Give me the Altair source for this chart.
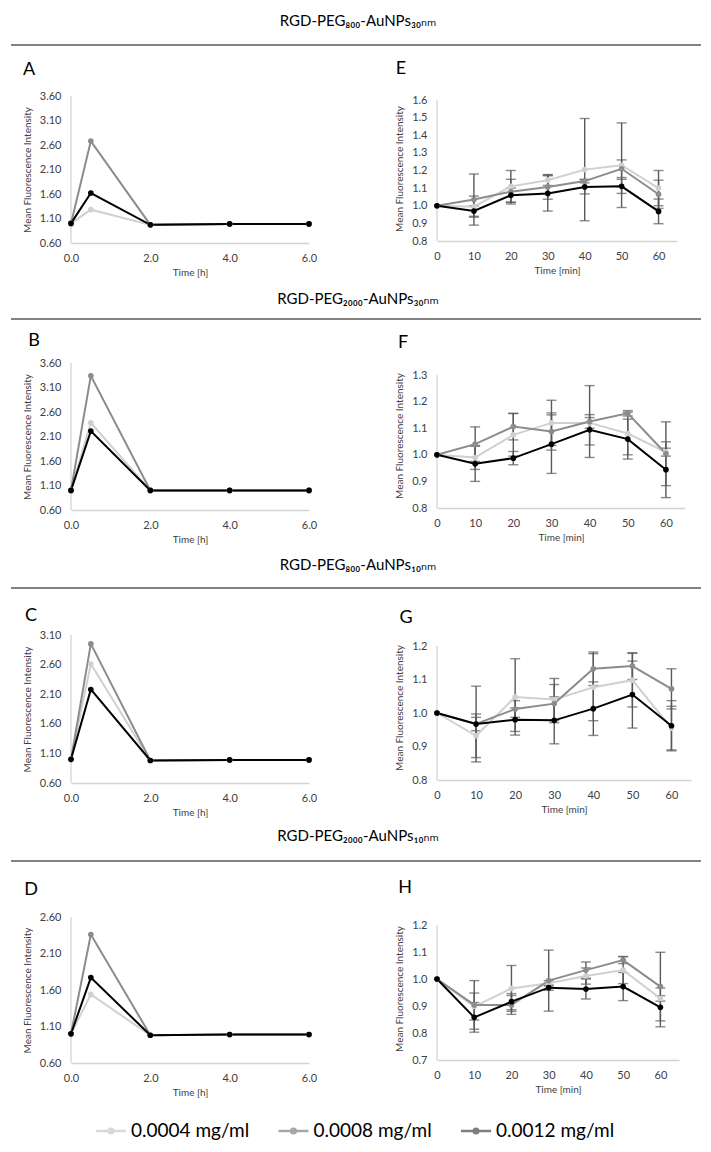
import altair as alt
import pandas as pd

FONT = "Lato, DejaVu Sans"

series = ["0.0004 mg/ml", "0.0008 mg/ml", "0.0012 mg/ml"]
line_colors = ["#d0d0d0", "#8c8c8c", "#000000"]
legend_colors = ["#d9d9d9", "#a6a6a6", "#7f7f7f"]

section_titles = [
    "RGD-PEG₈₀₀-AuNPs₃₀ₙₘ",
    "RGD-PEG₂₀₀₀-AuNPs₃₀ₙₘ",
    "RGD-PEG₈₀₀-AuNPs₁₀ₙₘ",
    "RGD-PEG₂₀₀₀-AuNPs₁₀ₙₘ",
]
letters_left = ["A", "B", "C", "D"]
letters_right = ["E", "F", "G", "H"]

# ---- left panels (time in hours) ----
times_h = [0.0, 0.5, 2.0, 4.0, 6.0]
xticks_h = [0, 2, 4, 6]

A_low = [1.00, 1.28, 0.97, 0.99, 0.99]
A_mid = [1.00, 2.68, 0.97, 0.99, 0.99]
A_high = [1.00, 1.62, 0.97, 0.99, 0.99]
A_yticks = [0.6, 1.1, 1.6, 2.1, 2.6, 3.1, 3.6]

B_low = [1.00, 2.38, 1.00, 1.00, 1.00]
B_mid = [1.00, 3.34, 1.00, 1.00, 1.00]
B_high = [1.00, 2.21, 1.00, 1.00, 1.00]
B_yticks = [0.6, 1.1, 1.6, 2.1, 2.6, 3.1, 3.6]

C_low = [1.00, 2.61, 0.98, 0.99, 0.99]
C_mid = [1.00, 2.95, 0.98, 0.99, 0.99]
C_high = [1.00, 2.18, 0.98, 0.99, 0.99]
C_yticks = [0.6, 1.1, 1.6, 2.1, 2.6, 3.1]

D_low = [1.00, 1.54, 0.98, 0.99, 0.99]
D_mid = [1.00, 2.36, 0.98, 0.99, 0.99]
D_high = [1.00, 1.77, 0.98, 0.99, 0.99]
D_yticks = [0.6, 1.1, 1.6, 2.1, 2.6]

# ---- right panels (time in minutes) ----
times_m = [0, 10, 20, 30, 40, 50, 60]
xticks_m = [0, 10, 20, 30, 40, 50, 60]

E_low = [1.00, 0.995, 1.11, 1.145, 1.205, 1.23, 1.10]
E_low_err = [0, 0.06, 0.09, 0.03, 0.29, 0.24, 0.10]
E_mid = [1.00, 1.035, 1.08, 1.107, 1.14, 1.21, 1.065]
E_mid_err = [0, 0.145, 0.07, 0.07, 0.01, 0.05, 0.08]
E_high = [1.00, 0.97, 1.06, 1.07, 1.107, 1.11, 0.968]
E_high_err = [0, 0.03, 0.04, 0.10, 0.04, 0.04, 0.07]
E_yticks = [0.8, 0.9, 1.0, 1.1, 1.2, 1.3, 1.4, 1.5, 1.6]

F_low = [1.00, 0.99, 1.075, 1.12, 1.12, 1.08, 1.01]
F_low_err = [0, 0.045, 0.08, 0.085, 0.02, 0.08, 0.015]
F_mid = [1.00, 1.04, 1.106, 1.0875, 1.125, 1.156, 1.004]
F_mid_err = [0, 0.065, 0.05, 0.07, 0.135, 0.01, 0.12]
F_high = [1.00, 0.966, 0.9875, 1.04, 1.094, 1.059, 0.944]
F_high_err = [0, 0.066, 0.025, 0.11, 0.057, 0.075, 0.105]
F_yticks = [0.8, 0.9, 1.0, 1.1, 1.2, 1.3]

G_low = [1.00, 0.932, 1.048, 1.04, 1.077, 1.098, 0.955]
G_low_err = [0, 0.065, 0.114, 0.063, 0.10, 0.08, 0.065]
G_mid = [1.00, 0.967, 1.012, 1.028, 1.132, 1.14, 1.072]
G_mid_err = [0, 0.113, 0.025, 0.057, 0.05, 0.04, 0.06]
G_high = [1.00, 0.967, 0.98, 0.978, 1.013, 1.055, 0.962]
G_high_err = [0, 0.02, 0.035, 0.07, 0.08, 0.10, 0.075]
G_yticks = [0.8, 0.9, 1.0, 1.1, 1.2]

H_low = [1.00, 0.898, 0.965, 0.984, 1.011, 1.033, 0.928]
H_low_err = [0, 0.05, 0.085, 0.01, 0.03, 0.05, 0.01]
H_mid = [1.00, 0.904, 0.904, 0.994, 1.033, 1.07, 0.972]
H_mid_err = [0, 0.09, 0.035, 0.113, 0.03, 0.013, 0.127]
H_high = [1.00, 0.858, 0.916, 0.968, 0.963, 0.972, 0.895]
H_high_err = [0, 0.055, 0.03, 0.01, 0.037, 0.052, 0.072]
H_yticks = [0.7, 0.8, 0.9, 1.0, 1.1, 1.2]

Y_TITLE = "Mean Fluorescence Intensity"
ERR_COLOR = "#595959"
AXIS_COLOR = "#d4d4d4"


def build_df(times, vals, errs=None):
    rows = []
    for i, s in enumerate(series):
        for j, t in enumerate(times):
            v = vals[i][j]
            e = errs[i][j] if errs is not None else 0
            rows.append({"t": t, "v": v, "s": s, "lo": v - e, "hi": v + e, "e": e})
    return pd.DataFrame(rows)


def panel(times, vals, yticks, yfmt, xdomain, xticks, xfmt, xtitle, width, height, errs=None, top_gap=0):
    """top_gap: empty pixels kept above the top tick (the axis line stops at the top tick)."""
    df = build_df(times, vals, errs)
    ymin, ymax = yticks[0], yticks[-1]
    plot_h = height + top_gap
    ytop = ymax + top_gap * (ymax - ymin) / height
    yscale = alt.Scale(domain=[ymin, ytop], nice=False, zero=False)
    yaxis = alt.Axis(values=yticks, format=yfmt, title=Y_TITLE, domain=False)

    def y(field):
        return alt.Y(field, type="quantitative", scale=yscale, axis=yaxis)

    x = alt.X(
        "t:Q",
        scale=alt.Scale(domain=xdomain, nice=False, zero=False),
        axis=alt.Axis(values=xticks, format=xfmt, title=xtitle),
    )
    color = alt.Color("s:N", scale=alt.Scale(domain=series, range=line_colors), legend=None)
    base = alt.Chart(df)
    layers = [
        alt.Chart(pd.DataFrame({"a": [0]}))
        .mark_rule(color=AXIS_COLOR, strokeWidth=1.3)
        .encode(
            x=alt.value(0),
            y=alt.YDatum(datum=ymin, type="quantitative", scale=yscale, axis=yaxis),
            y2=alt.Y2Datum(datum=ymax),
        )
    ]
    if errs is not None:
        edf = base.transform_filter("datum.e > 0")
        layers.append(
            edf.mark_rule(color=ERR_COLOR, strokeWidth=1.4).encode(x=x, y=y("lo"), y2="hi:Q")
        )
        layers.append(
            edf.mark_tick(orient="horizontal", size=10, thickness=1.4, color=ERR_COLOR).encode(
                x=x, y=y("lo")
            )
        )
        layers.append(
            edf.mark_tick(orient="horizontal", size=10, thickness=1.4, color=ERR_COLOR).encode(
                x=x, y=y("hi")
            )
        )
    layers.append(base.mark_line(strokeWidth=2).encode(x=x, y=y("v"), color=color))
    layers.append(base.mark_circle(size=32, opacity=1).encode(x=x, y=y("v"), color=color))
    return alt.layer(*layers).properties(width=width, height=plot_h)


def left_panel(low, mid, high, yticks, height):
    return panel(times_h, [low, mid, high], yticks, ".2f", [0, 6], xticks_h, ".1f", "Time [h]", 238, height)


def right_panel(low, mid, high, errs, yticks, width, height, top_gap):
    return panel(
        times_m, [low, mid, high], yticks, ".1f", [0, 65], xticks_m, "d", "Time [min]",
        width, height, errs, top_gap,
    )


def header(i, height, title_y, rule_y, lpos, rpos):
    d = pd.DataFrame({"title": [section_titles[i]], "l": [letters_left[i]], "r": [letters_right[i]]})
    c = alt.Chart(d)
    t = c.mark_text(font=FONT, fontSize=15, color="#000000").encode(
        text="title:N", x=alt.value(287), y=alt.value(title_y)
    )
    r = c.mark_rule(color="#595959", strokeWidth=1.5).encode(
        x=alt.value(-60), x2=alt.value(630), y=alt.value(rule_y)
    )
    l1 = c.mark_text(font=FONT, fontSize=18, color="#000000").encode(
        text="l:N", x=alt.value(lpos[0]), y=alt.value(lpos[1])
    )
    l2 = c.mark_text(font=FONT, fontSize=18, color="#000000").encode(
        text="r:N", x=alt.value(rpos[0]), y=alt.value(rpos[1])
    )
    return alt.layer(t, r, l1, l2).properties(width=238, height=height)


def spacer(h):
    return (
        alt.Chart(pd.DataFrame({"a": [0]}))
        .mark_point(opacity=0)
        .encode(x=alt.value(0), y=alt.value(0))
        .properties(width=10, height=h)
    )


legend_df = pd.DataFrame({"label": series})
lx = alt.X(
    "label:N",
    scale=alt.Scale(type="point", domain=series, range=[40, 405], padding=0),
    axis=None,
)
lc = alt.Chart(legend_df)
leg_line = lc.mark_point(shape="M-1,0L1,0", size=900, filled=False, strokeWidth=2.5, opacity=1).encode(
    x=lx,
    y=alt.value(68),
    stroke=alt.Stroke("label:N", scale=alt.Scale(domain=series, range=legend_colors), legend=None),
)
leg_dot = lc.mark_circle(size=50, opacity=1).encode(
    x=lx,
    y=alt.value(68),
    fill=alt.Fill("label:N", scale=alt.Scale(domain=series, range=legend_colors), legend=None),
)
leg_text = lc.mark_text(align="left", dx=20, fontSize=19, font=FONT, color="#000000").encode(
    x=lx, y=alt.value(68), text="label:N"
)
legend = alt.layer(leg_line, leg_dot, leg_text).properties(width=238, height=80)

cells = [
    header(0, 85, 10, 34, (-42, 59), (330, 58)),
    spacer(10),
    left_panel(A_low, A_mid, A_high, A_yticks, 147),
    right_panel(E_low, E_mid, E_high, [E_low_err, E_mid_err, E_high_err], E_yticks, 240, 141, 4),
    header(1, 120, 56, 76, (-37, 98), (332, 100)),
    spacer(10),
    left_panel(B_low, B_mid, B_high, B_yticks, 147),
    right_panel(F_low, F_mid, F_high, [F_low_err, F_mid_err, F_high_err], F_yticks, 248, 133, 12),
    header(2, 125, 55, 78, (-40, 106), (335, 108)),
    spacer(10),
    left_panel(C_low, C_mid, C_high, C_yticks, 148),
    right_panel(G_low, G_mid, G_high, [G_low_err, G_mid_err, G_high_err], G_yticks, 254, 134, 11),
    header(3, 134, 53, 78, (-40, 107), (334, 105)),
    spacer(10),
    left_panel(D_low, D_mid, D_high, D_yticks, 146),
    right_panel(H_low, H_mid, H_high, [H_low_err, H_mid_err, H_high_err], H_yticks, 242, 135, 8),
    legend,
]

chart = (
    alt.concat(
        *cells,
        columns=2,
        spacing={"row": 0, "column": 128},
        bounds="flush",
        align="none",
    )
    .properties(padding={"left": 2, "top": 0, "right": 0, "bottom": 0})
    .configure_view(strokeWidth=0)
    .configure_axis(
        domainColor=AXIS_COLOR,
        domainWidth=1.3,
        ticks=False,
        tickSize=0,
        grid=False,
        labelFlush=False,
        labelColor="#404040",
        labelFont=FONT,
        labelFontSize=11,
        titleFont=FONT,
        titleFontSize=10,
        titleFontWeight="normal",
        titleColor="#404040",
    )
    .configure_axisX(labelPadding=9, titlePadding=4)
    .configure_axisY(labelPadding=10, titlePadding=7)
)

chart.save("out.html", embed_options={"renderer": "svg", "actions": False})
